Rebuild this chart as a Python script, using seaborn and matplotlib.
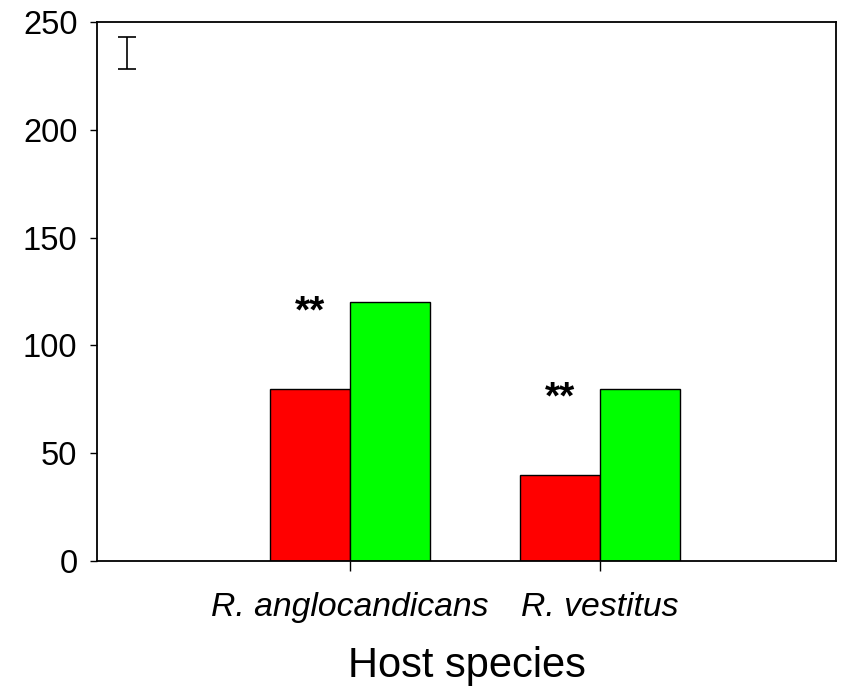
import pandas as pd
import matplotlib
matplotlib.use("Agg")
import matplotlib.pyplot as plt
import seaborn as sns

HOSTS = ["R. anglocandicans", "R. vestitus"]
GROUPS = ["Group 1", "Group 2"]
RED_VALUES = [80, 40]
GREEN_VALUES = [120, 80]
SIGNIF = ["**", "**"]
Y_TICKS = [0, 50, 100, 150, 200, 250]
ERR_MEAN = 235.5
ERR_HALF = 7.5

COLORS = ["#ff0000", "#00ff00"]

sns.set_theme(style="white")
plt.rcParams["font.family"] = ["Liberation Sans", "DejaVu Sans"]
plt.rcParams["text.color"] = "black"
plt.rcParams["xtick.color"] = "black"
plt.rcParams["ytick.color"] = "black"
plt.rcParams["axes.labelcolor"] = "black"

df = pd.DataFrame({
    "host": HOSTS * 2,
    "group": [GROUPS[0]] * len(HOSTS) + [GROUPS[1]] * len(HOSTS),
    "value": RED_VALUES + GREEN_VALUES,
})

fig = plt.figure(figsize=(8.5, 6.89), dpi=100)
ax = fig.add_axes([0.114, 0.1858, 0.8695, 0.7822])

sns.barplot(data=df, x="host", y="value", hue="group", palette=COLORS, width=0.64,
            saturation=1, edgecolor="black", linewidth=1, legend=False, ax=ax, errorbar=None)

# significance stars above the red bars
for i, star in enumerate(SIGNIF):
    ax.text(i - 0.16, GREEN_VALUES[i] - 4.5, star, ha="center", va="center",
            fontsize=28, fontweight="bold")

# error bar in the corner
ax.errorbar([-0.892], [ERR_MEAN], yerr=[ERR_HALF], color="black", linewidth=1.2,
            capsize=6.5, capthick=1.2)

ax.set_xlim(-1.012, 1.944)
ax.set_ylim(0, 250)
ax.set_yticks(Y_TICKS)
ax.set_xticks(range(len(HOSTS)))
ax.set_xticklabels(HOSTS, fontstyle="italic", fontsize=24.3)
ax.tick_params(axis="y", labelsize=23.5, length=5, width=1, direction="out", left=True, pad=9)
ax.tick_params(axis="x", length=7, width=1, direction="out", bottom=True, pad=15)
ax.set_xlabel("Host species", fontsize=30, labelpad=17)
ax.set_ylabel("")

for side in ["left", "bottom", "top", "right"]:
    ax.spines[side].set_visible(True)
    ax.spines[side].set_color("black")
    ax.spines[side].set_linewidth(1.3)

fig.savefig("out.png", dpi=100)
